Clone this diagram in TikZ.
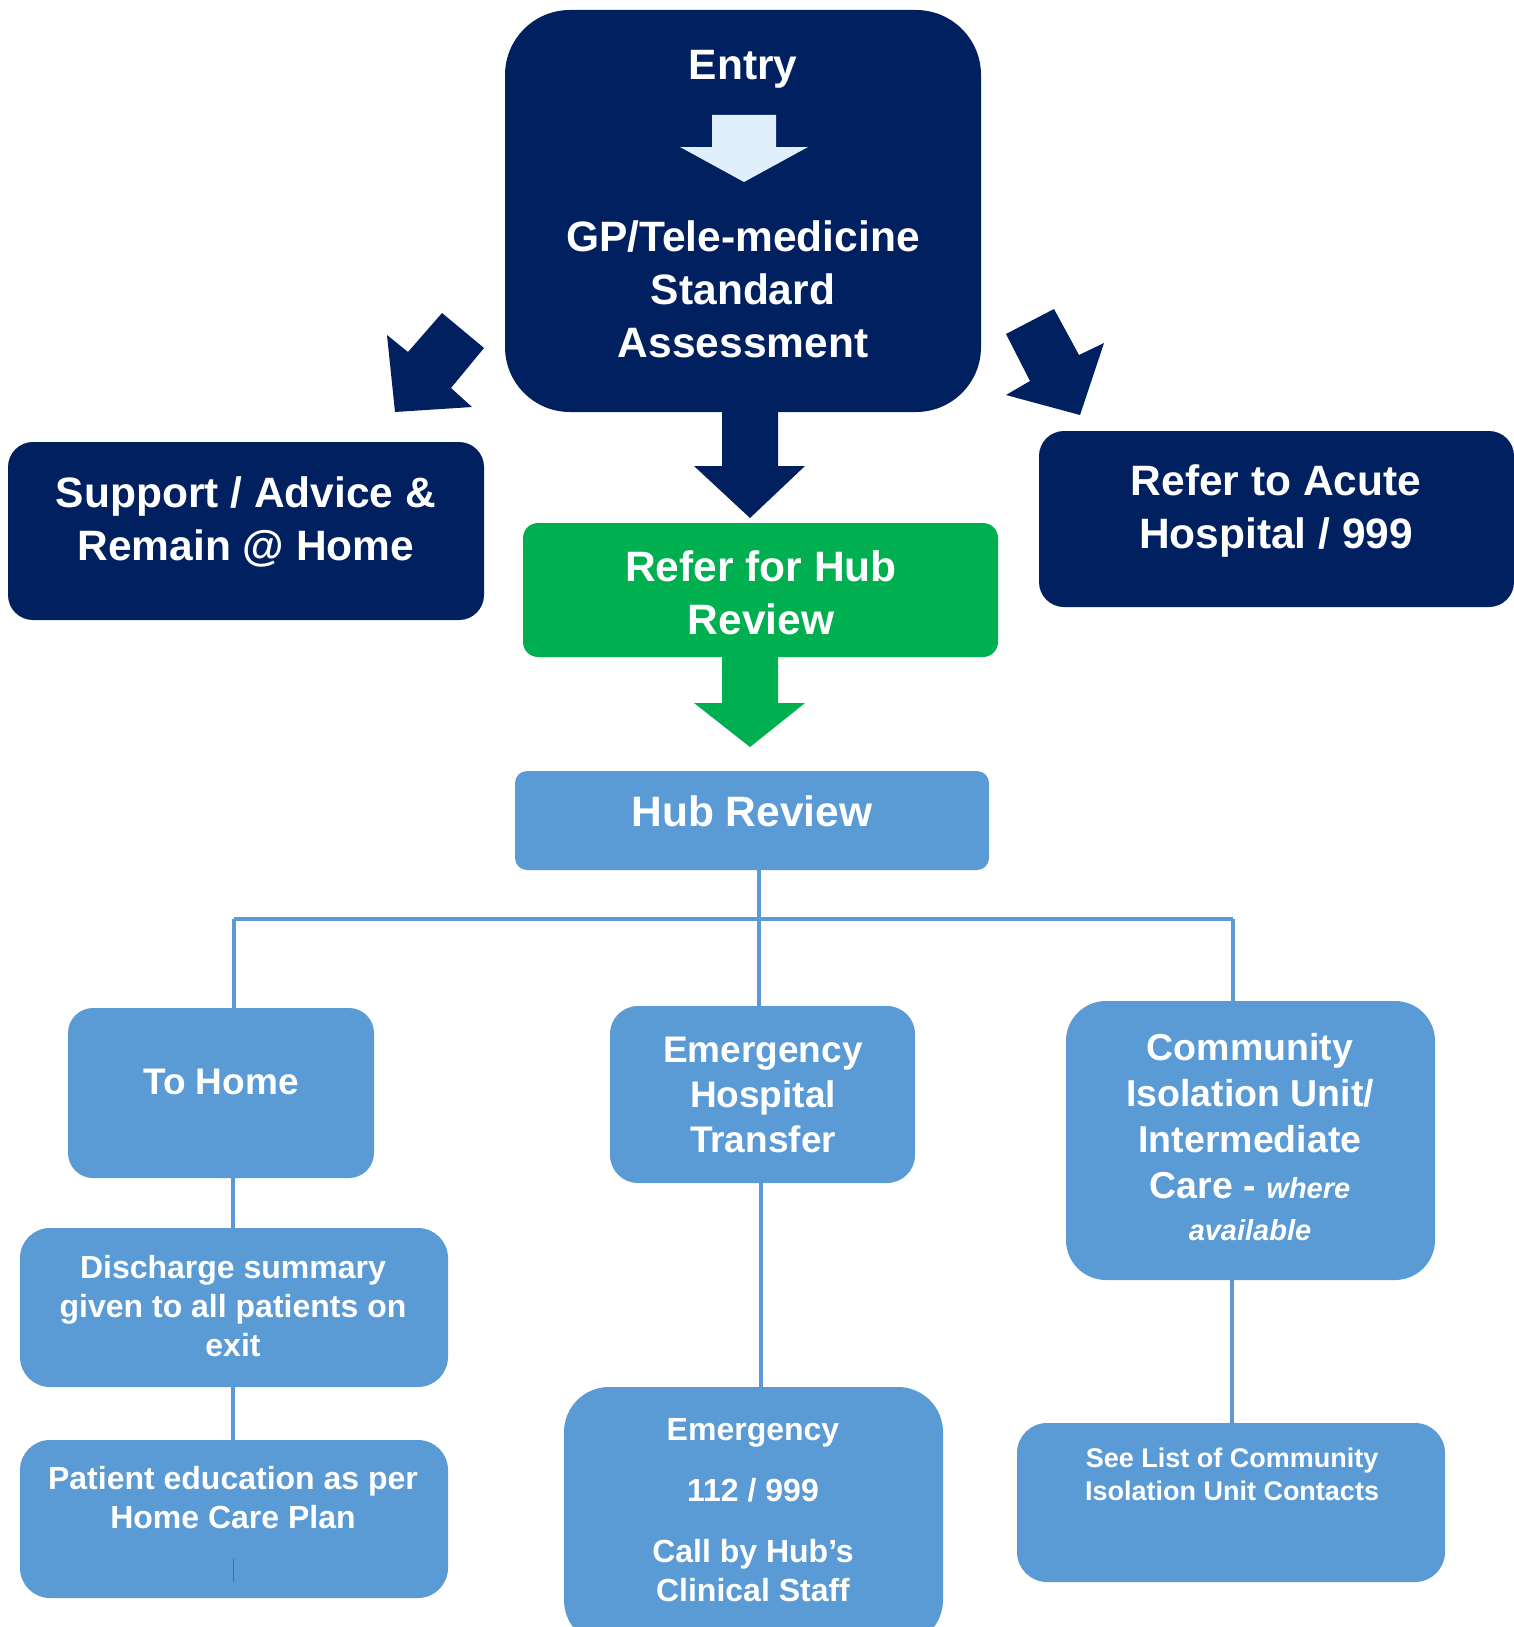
\documentclass[tikz,border=0pt]{standalone}
\usepackage{fontspec}
\setmainfont{Liberation Sans}
\definecolor{navy}{HTML}{002060}
\definecolor{hubgreen}{HTML}{00B050}
\definecolor{lblue}{HTML}{5B9BD5}
\definecolor{arrowlight}{HTML}{E0EFFC}
\definecolor{tick}{HTML}{41719C}
\newcommand\mkbox[6][]{%
  \node[boxbase,#1,minimum width={(#5-#3)*1pt},minimum height={(#6-#4)*1pt}] (#2) at ({(#3+#5)/2},{(#4+#6)/2}) {};}
\begin{document}
\begin{tikzpicture}[x=1pt,y=-1pt,
  boxbase/.style={inner sep=0pt,outer sep=0pt,draw=none,rectangle},
  navybox/.style={fill=navy},
  greenbox/.style={fill=hubgreen},
  bluebox/.style={fill=lblue},
  txt/.style={text=white,align=center,inner sep=0pt},
  big/.style={font=\bfseries\fontsize{42.5}{53}\selectfont},
  mid/.style={font=\bfseries\fontsize{37}{45}\selectfont},
  small/.style={font=\bfseries\fontsize{32}{39}\selectfont},
  tiny/.style={font=\bfseries\fontsize{27}{33}\selectfont},
  conn/.style={draw=lblue,line width=3.5pt}
]
\useasboundingbox (0,0) rectangle (1513,1627);
\fill[white] (0,0) rectangle (1513,1627);

% boxes
\mkbox[navybox,rounded corners=65pt]{entry}{505}{10}{981}{412}
\mkbox[navybox,rounded corners=25pt]{support}{8}{442}{484}{620}
\mkbox[navybox,rounded corners=25pt]{acute}{1039}{431}{1514}{607}
\mkbox[greenbox,rounded corners=15pt]{refer}{523}{523}{998}{657}
\mkbox[bluebox,rounded corners=12pt]{hub}{515}{771}{989}{870}
\mkbox[bluebox,rounded corners=25pt]{home}{68}{1008}{374}{1178}
\mkbox[bluebox,rounded corners=28pt]{eht}{610}{1006}{915}{1183}
\mkbox[bluebox,rounded corners=40pt]{ciu}{1066}{1001}{1435}{1280}
\mkbox[bluebox,rounded corners=30pt]{discharge}{20}{1228}{448}{1387}
\mkbox[bluebox,rounded corners=30pt]{educ}{20}{1440}{448}{1598}
\mkbox[bluebox,rounded corners=45pt]{emerg}{564}{1387}{943}{1645}
\mkbox[bluebox,rounded corners=30pt]{seelist}{1017}{1423}{1445}{1582}

% texts
\node[txt,font=\bfseries\fontsize{42.5}{52}\selectfont] (tEntry) at (743,69) {Entry};
\fill[arrowlight] (712,115) -- (776,115) -- (776,147) -- (808,147) -- (744,182) -- (680,147) -- (712,147) -- cycle;
\node[txt,big] (tGP) at (743,289) {GP/Tele-medicine\\Standard\\Assessment};
\node[txt,big] (tSupport) at (246,522) {Support / Advice \&\\Remain @ Home};
\node[txt,big] (tAcute) at (1276,511) {Refer to Acute\\Hospital / 999};
\node[txt,big] (tRefer) at (761,593) {Refer for Hub\\Review};
\node[txt,big] (tHub) at (752,811) {Hub Review};
\node[txt,mid] (tHome) at (221,1082) {To Home};
\node[txt,mid] (tEht) at (763,1095) {Emergency\\Hospital\\Transfer};
\node[txt,font=\bfseries\fontsize{37.5}{46}\selectfont,anchor=north] (tCiu) at (1250,1033) {Community\\Isolation Unit/\\Intermediate\\Care - {\itshape\fontsize{29}{40}\selectfont where}\\[-4pt]{\itshape\fontsize{29}{40}\selectfont available}};
\node[txt,small] (tDis) at (233,1306) {Discharge summary\\given to all patients on\\exit};
\node[txt,small] (tEduc) at (233,1498) {Patient education as per\\Home Care Plan};
\node[txt,small] (tEmerg) at (753,1510) {Emergency\\[22pt]112 / 999\\[22pt]Call by Hub’s\\Clinical Staff};
\node[txt,tiny] (tSee) at (1232,1474) {See List of Community\\Isolation Unit Contacts};
\draw[tick,line width=1pt] (233,1559) -- (233,1582);

% block arrows
\fill[navy] (442,313) -- (484,348) -- (451,388) -- (472,407) -- (395,412) -- (387,335) -- (408,352) -- cycle;
\fill[navy] (1006,334) -- (1054,309) -- (1079,355) -- (1104,343) -- (1080,415) -- (1006,395) -- (1030,381) -- cycle;
\fill[navy] (entry.south -| 722,0) -- (entry.south -| 778,0) -- (778,466) -- (805,466) -- (750,518) -- (694,466) -- (722,466) -- cycle;
\fill[hubgreen] (refer.south -| 722,0) -- (refer.south -| 778,0) -- (778,703) -- (805,703) -- (750,747) -- (694,703) -- (722,703) -- cycle;

% connectors
\coordinate (jm) at (759,919);
\coordinate (jl) at (234,919);
\coordinate (jr) at (1233,919);
\draw[conn] (hub.south -| jm) -- (jm);
\draw[conn] (jl) -- (jr);
\draw[conn] (jl) -- (home.north -| jl);
\draw[conn] (jm) -- (eht.north -| jm);
\draw[conn] (jr) -- (ciu.north -| jr);
\draw[conn] (home.south -| 233,0) -- (discharge.north -| 233,0);
\draw[conn] (discharge.south -| 233,0) -- (educ.north -| 233,0);
\draw[conn] (eht.south -| 761,0) -- (emerg.north -| 761,0);
\draw[conn] (ciu.south -| 1232,0) -- (seelist.north -| 1232,0);
\end{tikzpicture}
\end{document}
